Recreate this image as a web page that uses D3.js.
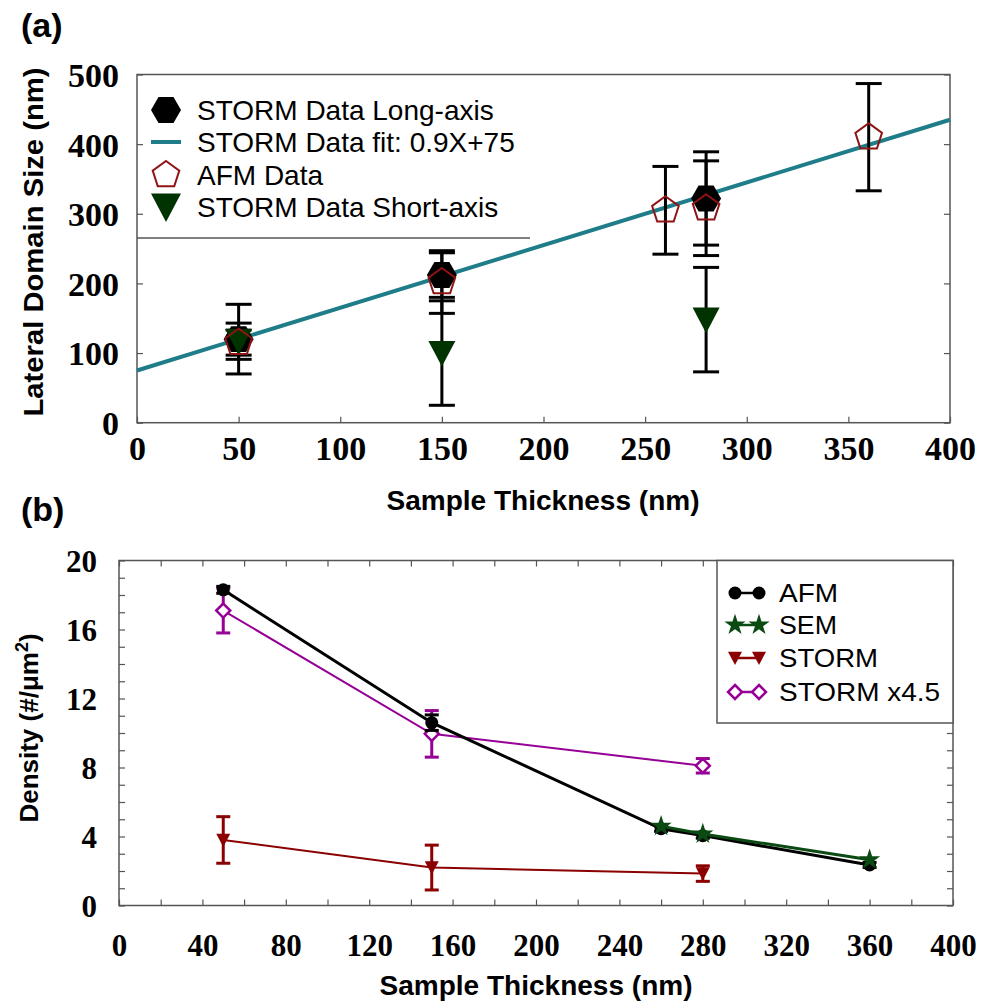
<!DOCTYPE html>
<html><head><meta charset="utf-8">
<script src="https://cdn.jsdelivr.net/npm/d3@7"></script>
<style>body{margin:0;background:#fff}svg{display:block}</style>
</head><body>
<script>
// ---------- Panel (a) data ----------
const xTicksA = [0, 50, 100, 150, 200, 250, 300, 350, 400];
const yTicksA = [0, 100, 200, 300, 400, 500];
const longAxisX = [50, 150, 280];
const longAxisY = [120, 212, 322];
const longAxisErr = [50, 32, 67];
const afmAX = [50, 150, 260, 280, 360];
const afmAY = [115, 202, 305, 308, 410];
const afmAErr = [18, 45, 63, 68, 77];
const shortAxisX = [50, 150, 280];
const shortAxisY = [117, 100, 148];
const shortAxisErr = [26, 75, 75];
const fitSlope = 0.9, fitIntercept = 75;
const fitRange = [0, 400];
const legendA = ["STORM Data Long-axis", "STORM Data fit: 0.9X+75", "AFM Data", "STORM Data Short-axis"];

// ---------- Panel (b) data ----------
const xTicksB = [0, 40, 80, 120, 160, 200, 240, 280, 320, 360, 400];
const yTicksB = [0, 4, 8, 12, 16, 20];
const afmBX = [50, 150, 260, 280, 360];
const afmBY = [18.3, 10.6, 4.45, 4.05, 2.35];
const afmBErr = [0.2, 0.45, 0.15, 0.15, 0.15];
const semX = [260, 280, 360];
const semY = [4.6, 4.15, 2.65];
const stormX = [50, 150, 280];
const stormY = [3.8, 2.2, 1.85];
const stormErr = [1.35, 1.3, 0.45];
const storm45Y = [17.1, 9.95, 8.1];
const storm45Err = [1.3, 1.35, 0.42];
const legendB = ["AFM", "SEM", "STORM", "STORM x4.5"];

const W = 984, H = 1001;
const svg = d3.select("body").append("svg").attr("width", W).attr("height", H);

const teal = "#1f7d89", darkRed = "#8e1414", darkGreen = "#003300",
      semGreen = "#0b4a12", stormRed = "#8b0000", purple = "#960096", frame = "#555";
const serif = "'Liberation Serif','Times New Roman',serif";
const sans = "'Liberation Sans',Arial,sans-serif";

function polygon(n, r, rot) {
  const pts = d3.range(n).map(i => {
    const a = rot + i * 2 * Math.PI / n;
    return [r * Math.cos(a), r * Math.sin(a)];
  });
  return "M" + pts.map(p => p.join(",")).join("L") + "Z";
}
const hexPath = polygon(6, 15, 0);
const pentPath = polygon(5, 14, -Math.PI / 2);
const triDown = (w) => `M${-w/2},${-w*0.45}L${w/2},${-w*0.45}L0,${w*0.5}Z`;

// ================= Panel (a) =================
const xA = d3.scaleLinear([0, 400], [137, 950]);
const yA = d3.scaleLinear([0, 500], [422.7, 74.5]);
const gA = svg.append("g");

function styleAxis(g) {
  g.select(".domain").remove();
  g.selectAll(".tick line").attr("stroke", frame).attr("stroke-width", 1.2);
}
gA.append("g").attr("transform", `translate(0,${yA(0)})`)
  .call(d3.axisBottom(xA).tickValues(xTicksA).tickSize(-6).tickFormat(d3.format("d")))
  .call(styleAxis)
  .call(g => g.selectAll("text").attr("y", 25).attr("dy", "0.35em")
    .attr("font-family", serif).attr("font-weight", "bold").attr("font-size", 34).attr("fill", "#000"));
gA.append("g").attr("transform", `translate(${xA(0)},0)`)
  .call(d3.axisLeft(yA).tickValues(yTicksA).tickSize(-6).tickFormat(d3.format("d")))
  .call(styleAxis)
  .call(g => g.selectAll("text").attr("x", -18).attr("dy", "0.35em")
    .attr("font-family", serif).attr("font-weight", "bold").attr("font-size", 34).attr("fill", "#000"));
gA.append("g").attr("transform", `translate(${xA(400)},0)`)
  .call(d3.axisRight(yA).tickValues(yTicksA).tickSize(-6).tickFormat(""))
  .call(styleAxis);
gA.append("rect").attr("x", xA(0)).attr("y", yA(500)).attr("width", xA(400) - xA(0))
  .attr("height", yA(0) - yA(500)).attr("fill", "none").attr("stroke", frame).attr("stroke-width", 1.5);

// legend box bottom line
gA.append("line").attr("x1", xA(0)).attr("x2", 530).attr("y1", 238).attr("y2", 238)
  .attr("stroke", frame).attr("stroke-width", 1.5);

// fit line
gA.append("path").datum(fitRange)
  .attr("d", d3.line().x(d => xA(d)).y(d => yA(fitSlope * d + fitIntercept)))
  .attr("stroke", teal).attr("stroke-width", 4).attr("fill", "none");

function errA(xs, ys, es) {
  const g = gA.append("g").attr("stroke", "#000").attr("stroke-width", 3);
  xs.forEach((x, i) => {
    const cx = xA(x), t = yA(ys[i] + es[i]), b = yA(ys[i] - es[i]);
    g.append("line").attr("x1", cx).attr("x2", cx).attr("y1", t).attr("y2", b);
    g.append("line").attr("x1", cx - 13).attr("x2", cx + 13).attr("y1", t).attr("y2", t);
    g.append("line").attr("x1", cx - 13).attr("x2", cx + 13).attr("y1", b).attr("y2", b);
  });
}
errA(longAxisX, longAxisY, longAxisErr);
errA(afmAX, afmAY, afmAErr);
errA(shortAxisX, shortAxisY, shortAxisErr);

gA.selectAll(".hex").data(longAxisX).join("path")
  .attr("d", hexPath).attr("transform", (d, i) => `translate(${xA(d)},${yA(longAxisY[i])})`)
  .attr("fill", "#000");
gA.selectAll(".tri").data(shortAxisX).join("path")
  .attr("d", triDown(27)).attr("transform", (d, i) => `translate(${xA(d)},${yA(shortAxisY[i])})`)
  .attr("fill", darkGreen);
gA.selectAll(".pent").data(afmAX).join("path")
  .attr("d", pentPath).attr("transform", (d, i) => `translate(${xA(d)},${yA(afmAY[i])})`)
  .attr("fill", "none").attr("stroke", darkRed).attr("stroke-width", 2);

// legend (a)
const legAY = [110, 142, 175, 207];
const legA = gA.append("g");
legA.append("path").attr("d", hexPath).attr("transform", `translate(166,${legAY[0]})`).attr("fill", "#000");
legA.append("line").attr("x1", 151).attr("x2", 181).attr("y1", legAY[1]).attr("y2", legAY[1])
  .attr("stroke", teal).attr("stroke-width", 4);
legA.append("path").attr("d", pentPath).attr("transform", `translate(166,${legAY[2]})`)
  .attr("fill", "none").attr("stroke", darkRed).attr("stroke-width", 2);
legA.append("path").attr("d", triDown(30)).attr("transform", `translate(166,${legAY[3]})`).attr("fill", darkGreen);
legA.selectAll("text").data(legendA).join("text")
  .attr("x", 197).attr("y", (d, i) => legAY[i]).attr("dy", "0.36em")
  .attr("font-family", sans).attr("font-size", 28).attr("fill", "#000").text(d => d);

// titles (a)
svg.append("text").attr("x", 21).attr("y", 37).attr("font-family", sans).attr("font-weight", "bold")
  .attr("font-size", 34).text("(a)");
svg.append("text").attr("transform", `translate(43,242) rotate(-90)`).attr("text-anchor", "middle")
  .attr("font-family", sans).attr("font-weight", "bold").attr("font-size", 28)
  .attr("textLength", 349).attr("lengthAdjust", "spacingAndGlyphs").text("Lateral Domain Size (nm)");
svg.append("text").attr("x", 543).attr("y", 510).attr("text-anchor", "middle")
  .attr("font-family", sans).attr("font-weight", "bold").attr("font-size", 27)
  .attr("textLength", 313).attr("lengthAdjust", "spacingAndGlyphs").text("Sample Thickness (nm)");

// ================= Panel (b) =================
const xB = d3.scaleLinear([0, 400], [119, 953]);
const yB = d3.scaleLinear([0, 20], [905.5, 560.5]);
const gB = svg.append("g");

gB.append("g").attr("transform", `translate(0,${yB(0)})`)
  .call(d3.axisBottom(xB).ticks(20).tickSize(-6).tickFormat(d => xTicksB.includes(d) ? d : ""))
  .call(styleAxis)
  .call(g => g.selectAll("text").attr("y", 40).attr("dy", "0.35em")
    .attr("font-family", serif).attr("font-weight", "bold").attr("font-size", 31).attr("fill", "#000"));
gB.append("g").attr("transform", `translate(0,${yB(20)})`)
  .call(d3.axisTop(xB).ticks(20).tickSize(-6).tickFormat(""))
  .call(styleAxis);
gB.append("g").attr("transform", `translate(${xB(0)},0)`)
  .call(d3.axisLeft(yB).ticks(20).tickSize(-6).tickFormat(d => yTicksB.includes(d) ? d : ""))
  .call(styleAxis)
  .call(g => g.selectAll("text").attr("x", -22).attr("dy", "0.35em")
    .attr("font-family", serif).attr("font-weight", "bold").attr("font-size", 31).attr("fill", "#000"));
gB.append("g").attr("transform", `translate(${xB(400)},0)`)
  .call(d3.axisRight(yB).ticks(20).tickSize(-6).tickFormat(""))
  .call(styleAxis);
gB.append("rect").attr("x", xB(0)).attr("y", yB(20)).attr("width", xB(400) - xB(0))
  .attr("height", yB(0) - yB(20)).attr("fill", "none").attr("stroke", frame).attr("stroke-width", 1.5);

const lineB = (xs, ys) => d3.line().x((d, i) => xB(xs[i])).y((d, i) => yB(ys[i]))(xs);

function errB(xs, ys, es, color, w) {
  const g = gB.append("g").attr("stroke", color).attr("stroke-width", w);
  xs.forEach((x, i) => {
    const cx = xB(x), t = yB(ys[i] + es[i]), b = yB(ys[i] - es[i]);
    g.append("line").attr("x1", cx).attr("x2", cx).attr("y1", t).attr("y2", b);
    g.append("line").attr("x1", cx - 7).attr("x2", cx + 7).attr("y1", t).attr("y2", t);
    g.append("line").attr("x1", cx - 7).attr("x2", cx + 7).attr("y1", b).attr("y2", b);
  });
}

// STORM (red)
gB.append("path").attr("d", lineB(stormX, stormY)).attr("stroke", stormRed).attr("stroke-width", 2).attr("fill", "none");
errB(stormX, stormY, stormErr, stormRed, 3);
gB.selectAll(".st").data(stormX).join("path").attr("d", triDown(14))
  .attr("transform", (d, i) => `translate(${xB(d)},${yB(stormY[i])})`).attr("fill", stormRed);

// STORM x4.5 (purple)
gB.append("path").attr("d", lineB(stormX, storm45Y)).attr("stroke", purple).attr("stroke-width", 2).attr("fill", "none");
errB(stormX, storm45Y, storm45Err, purple, 3);
const diamond = "M0,-7L7,0L0,7L-7,0Z";
gB.selectAll(".sd").data(stormX).join("path").attr("d", diamond)
  .attr("transform", (d, i) => `translate(${xB(d)},${yB(storm45Y[i])})`)
  .attr("fill", "#fff").attr("stroke", purple).attr("stroke-width", 2.5);

// AFM (black)
gB.append("path").attr("d", lineB(afmBX, afmBY)).attr("stroke", "#000").attr("stroke-width", 3).attr("fill", "none");
errB(afmBX, afmBY, afmBErr, "#000", 3);
gB.selectAll(".ac").data(afmBX).join("circle").attr("cx", d => xB(d))
  .attr("cy", (d, i) => yB(afmBY[i])).attr("r", 6.5).attr("fill", "#000");

// SEM (green)
gB.append("path").attr("d", lineB(semX, semY)).attr("stroke", semGreen).attr("stroke-width", 3).attr("fill", "none");
const star = d3.symbol(d3.symbolStar, 140)();
gB.selectAll(".ss").data(semX).join("path").attr("d", star)
  .attr("transform", (d, i) => `translate(${xB(d)},${yB(semY[i])})`).attr("fill", semGreen);

// legend (b)
const lb = gB.append("g");
lb.append("rect").attr("x", 717).attr("y", yB(20)).attr("width", xB(400) - 717).attr("height", 723 - yB(20))
  .attr("fill", "#fff").attr("stroke", frame).attr("stroke-width", 1.5);
const legBY = [593, 625, 658, 692];
const legColors = ["#000", semGreen, stormRed, purple];
legBY.forEach((y, i) => {
  lb.append("line").attr("x1", 735).attr("x2", 759).attr("y1", y).attr("y2", y)
    .attr("stroke", legColors[i]).attr("stroke-width", 2.5);
  [735, 759].forEach(x => {
    if (i === 0) lb.append("circle").attr("cx", x).attr("cy", y).attr("r", 6.5).attr("fill", "#000");
    if (i === 1) lb.append("path").attr("d", star).attr("transform", `translate(${x},${y})`).attr("fill", semGreen);
    if (i === 2) lb.append("path").attr("d", triDown(14)).attr("transform", `translate(${x},${y})`).attr("fill", stormRed);
    if (i === 3) lb.append("path").attr("d", diamond).attr("transform", `translate(${x},${y})`)
      .attr("fill", "#fff").attr("stroke", purple).attr("stroke-width", 2.5);
  });
});
const legBW = [59, 58, 99, 161];
lb.selectAll("text").data(legendB).join("text")
  .attr("x", 779).attr("y", (d, i) => legBY[i]).attr("dy", "0.36em")
  .attr("font-family", sans).attr("font-size", 26).attr("fill", "#000")
  .attr("textLength", (d, i) => legBW[i]).attr("lengthAdjust", "spacingAndGlyphs").text(d => d);

// titles (b)
svg.append("text").attr("x", 21).attr("y", 521).attr("font-family", sans).attr("font-weight", "bold")
  .attr("font-size", 34).text("(b)");
const yt = svg.append("text").attr("transform", `translate(38,728) rotate(-90)`).attr("text-anchor", "middle")
  .attr("font-family", sans).attr("font-weight", "bold").attr("font-size", 26);
yt.append("tspan").text("Density (#/μm");
yt.append("tspan").attr("dy", -10).attr("font-size", 18).text("2");
yt.append("tspan").attr("dy", 10).text(")");
svg.append("text").attr("x", 536).attr("y", 995).attr("text-anchor", "middle")
  .attr("font-family", sans).attr("font-weight", "bold").attr("font-size", 27)
  .attr("textLength", 313).attr("lengthAdjust", "spacingAndGlyphs").text("Sample Thickness (nm)");
</script>
</body></html>
